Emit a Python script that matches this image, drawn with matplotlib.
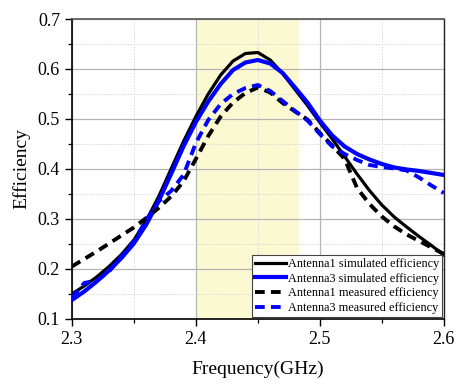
import matplotlib
matplotlib.use("Agg")
import matplotlib.pyplot as plt
from matplotlib.ticker import MultipleLocator

freq = [2.30, 2.31, 2.32, 2.33, 2.34, 2.35, 2.36, 2.37, 2.38, 2.39,
        2.40, 2.41, 2.42, 2.43, 2.44, 2.45, 2.46, 2.47, 2.48, 2.49,
        2.50, 2.51, 2.52, 2.53, 2.54, 2.55, 2.56, 2.57, 2.58, 2.59, 2.60]

a1_sim = [0.150, 0.166, 0.184, 0.205, 0.229, 0.258, 0.297, 0.345, 0.400, 0.455,
          0.505, 0.550, 0.588, 0.616, 0.631, 0.633, 0.618, 0.591, 0.559, 0.527,
          0.493, 0.460, 0.425, 0.390, 0.357, 0.328, 0.304, 0.284, 0.265, 0.247, 0.228]

a3_sim = [0.138, 0.155, 0.175, 0.197, 0.222, 0.251, 0.289, 0.336, 0.390, 0.445,
          0.494, 0.535, 0.570, 0.598, 0.613, 0.618, 0.611, 0.592, 0.563, 0.533,
          0.497, 0.467, 0.445, 0.430, 0.419, 0.410, 0.403, 0.399, 0.396, 0.392, 0.388]

a1_meas = [0.205, 0.220, 0.235, 0.251, 0.267, 0.283, 0.302, 0.322, 0.345, 0.375,
           0.420, 0.466, 0.505, 0.533, 0.552, 0.563, 0.553, 0.532, 0.515, 0.499,
           0.472, 0.447, 0.420, 0.362, 0.330, 0.305, 0.285, 0.269, 0.256, 0.243, 0.230]

a3_meas = [0.142, 0.172, 0.177, 0.195, 0.225, 0.255, 0.298, 0.335, 0.356, 0.388,
           0.452, 0.498, 0.530, 0.550, 0.562, 0.568, 0.556, 0.536, 0.516, 0.497,
           0.470, 0.445, 0.430, 0.418, 0.408, 0.404, 0.401, 0.397, 0.383, 0.367, 0.352]

labels = ["Antenna1 simulated efficiency", "Antenna3 simulated efficiency",
          "Antenna1 measured efficiency", "Antenna3 measured efficiency"]
band = [2.4, 2.4835]

plt.rcParams['font.family'] = ['Liberation Serif', 'DejaVu Serif']

fig = plt.figure(figsize=(4.58, 3.88), dpi=100)
ax = fig.add_axes([0.157, 0.178, 0.812, 0.773])

ax.axvspan(band[0], band[1], color='#fbf9d2', zorder=0, lw=0)

ax.plot(freq, a1_sim, color='black', lw=2.3, label=labels[0], zorder=3)
ax.plot(freq, a3_sim, color='#0000ff', lw=3.0, label=labels[1], zorder=3)
ax.plot(freq, a1_meas, color='black', lw=2.8, ls=(0, (2.5, 1.6)), label=labels[2], zorder=3)
ax.plot(freq, a3_meas, color='#0000ff', lw=2.8, ls=(0, (2.5, 1.6)), label=labels[3], zorder=3)

ax.set_xlim(2.3, 2.6)
ax.set_ylim(0.1, 0.7)
ax.xaxis.set_major_locator(MultipleLocator(0.1))
ax.xaxis.set_minor_locator(MultipleLocator(0.05))
ax.yaxis.set_major_locator(MultipleLocator(0.1))
ax.yaxis.set_minor_locator(MultipleLocator(0.05))
ax.set_xticklabels([], minor=True)

ax.grid(True, which='major', color='#b4b4b4', lw=0.9, ls='-')
ax.grid(True, which='minor', color='#d8d8d8', lw=0.7, ls=(0, (1.5, 1.5)))

ax.tick_params(which='major', direction='out', length=5, width=1.0, labelsize=13,
               top=False, right=False)
ax.tick_params(which='minor', direction='out', length=3, width=0.9,
               top=False, right=False)

for side in ['left', 'bottom']:
    ax.spines[side].set_color('black')
    ax.spines[side].set_linewidth(1.2)
ax.spines['top'].set_color('#555555')
ax.spines['top'].set_linewidth(1.2)
ax.spines['right'].set_color('#222222')
ax.spines['right'].set_linewidth(1.0)

ax.set_xlabel('Frequency(GHz)', fontsize=14, labelpad=9)
ax.set_ylabel('Efficiency', fontsize=14, labelpad=5)

leg = ax.legend(loc='lower right', fontsize=8.8, handlelength=2.6, handletextpad=0.1,
                borderpad=0.25, labelspacing=0.22, borderaxespad=0.15,
                frameon=True, fancybox=False, edgecolor='#444444', framealpha=1)
leg.get_frame().set_linewidth(0.8)

fig.savefig('out.png', dpi=100)
